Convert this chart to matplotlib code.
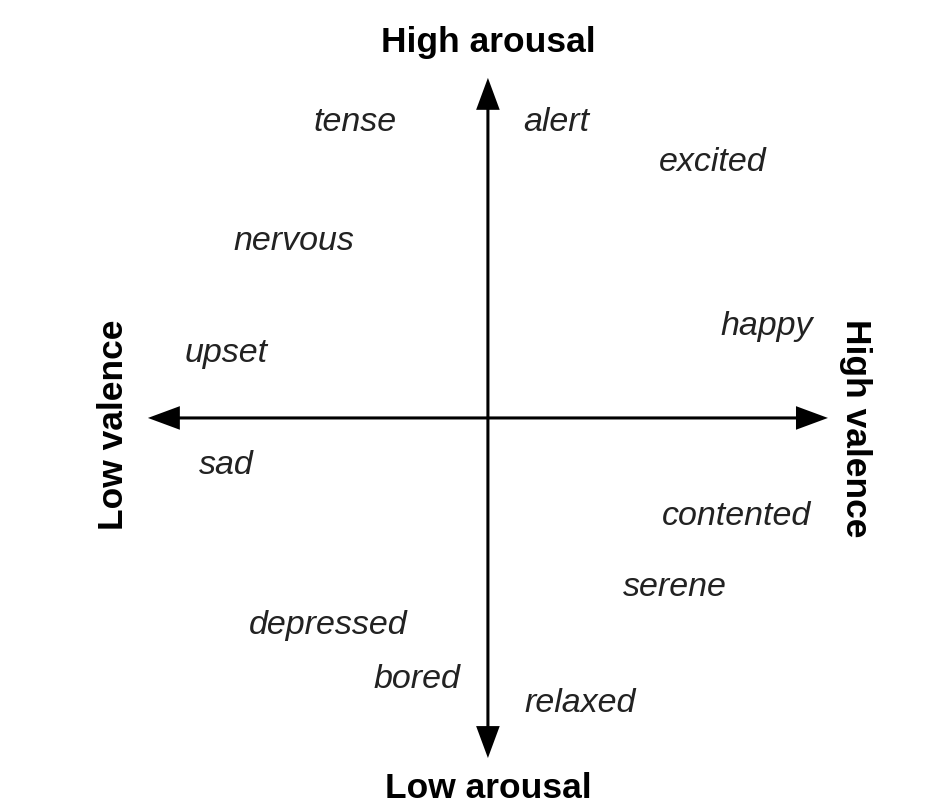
import matplotlib.pyplot as plt
from matplotlib.patches import FancyArrowPatch

# words placed on the valence / arousal plane
words = ["tense", "alert", "excited", "nervous", "happy", "upset",
         "sad", "contented", "serene", "depressed", "bored", "relaxed"]
valence = [-0.39, 0.20, 0.66, -0.57, 0.82, -0.77,
           -0.77, 0.73, 0.55, -0.47, -0.21, 0.27]
arousal = [0.87, 0.87, 0.75, 0.52, 0.27, 0.19,
           -0.14, -0.29, -0.50, -0.61, -0.77, -0.84]

axis_labels = ["High arousal", "Low arousal", "Low valence", "High valence"]

plt.rcParams['font.family'] = ['Liberation Sans', 'DejaVu Sans']

fig = plt.figure(figsize=(9.5, 8.07), dpi=100)
ax = fig.add_axes([0, 0, 1, 1])
ax.set_xlim(-1.435, 1.359)
ax.set_ylim(-1.144, 1.229)
ax.axis('off')

arrow_style = 'simple,head_length=23,head_width=17,tail_width=2.2'
for start, end in [((0, 0), (1.0, 0)), ((0, 0), (-1.0, 0)),
                   ((0, 0), (0, 1.0)), ((0, 0), (0, -1.0))]:
    ax.add_patch(FancyArrowPatch(start, end, arrowstyle=arrow_style,
                                 mutation_scale=1, color='black',
                                 shrinkA=0, shrinkB=0, lw=0))

for w, x, y in zip(words, valence, arousal):
    ax.text(x, y, w, fontsize=24.5, fontstyle='italic', color='#222222',
            ha='center', va='center')

ax.text(0, 1.105, axis_labels[0], fontsize=25.5, fontweight='bold', ha='center', va='center')
ax.text(0, -1.09, axis_labels[1], fontsize=25.5, fontweight='bold', ha='center', va='center')
ax.text(-1.10, -0.02, axis_labels[2], fontsize=25.5, fontweight='bold', ha='center', va='center', rotation=90)
ax.text(1.08, -0.03, axis_labels[3], fontsize=25.5, fontweight='bold', ha='center', va='center', rotation=-90)

plt.savefig('out.png', dpi=100)
